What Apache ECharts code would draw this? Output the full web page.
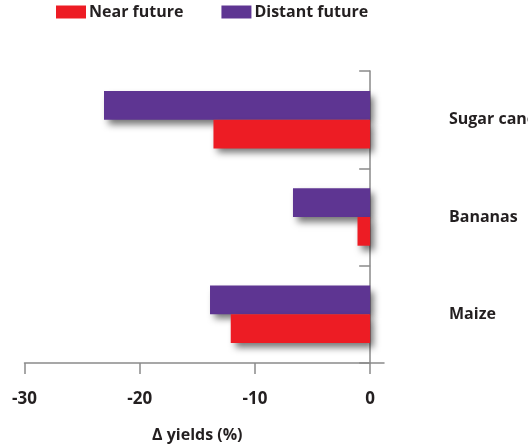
<!DOCTYPE html>
<html><head><meta charset="utf-8">
<script src="https://cdn.jsdelivr.net/npm/echarts@6/dist/echarts.min.js"></script>
<style>html,body{margin:0;padding:0;background:#fff}#c{width:528px;height:448px}</style>
</head><body><div id="c"></div>
<script>
const categories = ['Maize', 'Bananas', 'Sugar cane'];
const nearFuture = [-12.1, -1.1, -13.6];
const distantFuture = [-13.9, -6.7, -23.1];
const xTicks = [-30, -20, -10, 0];

const FONT = '"Open Sans", sans-serif';
const TXT = '#231f20';
const AX = '#8a8a8a';
const shadow = {shadowBlur: 7, shadowOffsetX: 4, shadowOffsetY: 5, shadowColor: 'rgba(0,0,0,0.55)'};

const chart = echarts.init(document.getElementById('c'));
chart.setOption({
  animation: false,
  legend: {
    left: 56, top: 4, padding: 0, icon: 'rect', itemWidth: 30, itemHeight: 13, itemGap: 38,
    textStyle: {fontFamily: FONT, fontWeight: 'bold', fontSize: 16, color: TXT, padding: [0,0,0,-2]},
    data: ['Near future', 'Distant future']
  },
  grid: {left: 24.5, right: 144, top: 71, bottom: 85, outerBoundsMode: 'none', containLabel: false},
  xAxis: {
    type: 'value', min: -30, max: 1.2,
    axisLine: {show: true, onZero: false, lineStyle: {color: AX, width: 1.5}},
    axisTick: {show: true, length: 11, customValues: xTicks, lineStyle: {color: AX, width: 1.5}},
    axisLabel: {customValues: xTicks, margin: 28, fontFamily: FONT, fontWeight: 'bold', fontSize: 17, color: TXT},
    splitLine: {show: false},
    name: 'Δ yields (%)', nameLocation: 'middle', nameGap: 64,
    nameTextStyle: {fontFamily: FONT, fontWeight: 'bold', fontSize: 16, color: TXT, padding: [0,14,0,0]}
  },
  yAxis: {
    type: 'category', data: categories, position: 'right',
    axisLine: {show: true, onZero: true, lineStyle: {color: AX, width: 1.5}},
    axisTick: {show: true, inside: true, length: 11, lineStyle: {color: AX, width: 1.5}},
    axisLabel: {margin: 65, align: 'left', fontFamily: FONT, fontWeight: 'bold', fontSize: 16, color: TXT, padding: [4,0,0,0]}
  },
  series: [
    {name: 'Distant future', type: 'bar', data: distantFuture, barGap: '0%', barCategoryGap: '41%',
     itemStyle: Object.assign({color: '#5E3592'}, shadow)},
    {name: 'Near future', type: 'bar', data: nearFuture, barGap: '0%', barCategoryGap: '41%',
     itemStyle: Object.assign({color: '#ED1C24'}, shadow)}
  ]
});
</script></body></html>
